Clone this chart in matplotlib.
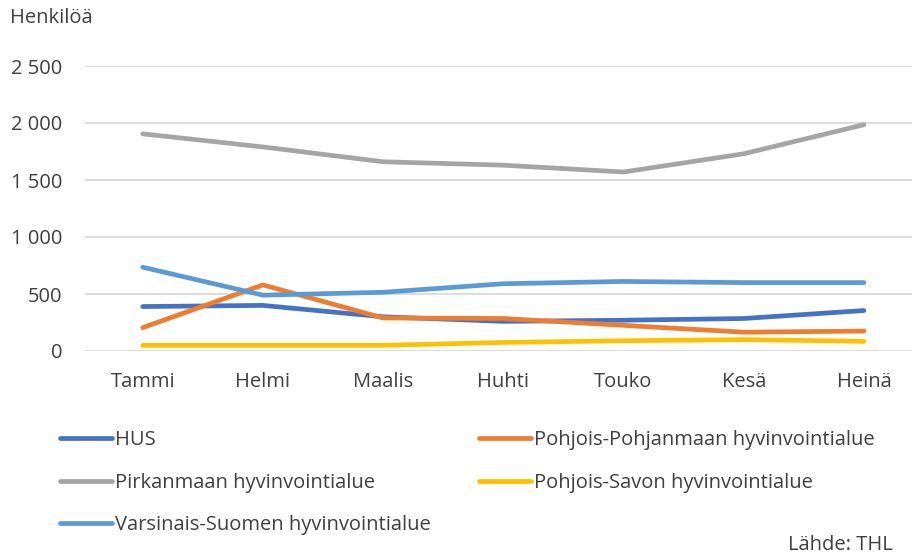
import numpy as np
import matplotlib.pyplot as plt

plt.rcParams["font.family"] = ["Open Sans", "DejaVu Sans"]

# Kuukaudet ja sarjat (henkilöä)
kuukaudet = ["Tammi", "Helmi", "Maalis", "Huhti", "Touko", "Kesä", "Heinä"]
hus = [390, 400, 300, 260, 270, 285, 355]
pohjois_pohjanmaa = [205, 580, 290, 285, 225, 165, 175]
pirkanmaa = [1905, 1790, 1660, 1630, 1570, 1730, 1985]
pohjois_savo = [50, 50, 50, 75, 90, 100, 85]
varsinais_suomi = [735, 490, 515, 590, 610, 600, 600]

y_ticks = [0, 500, 1000, 1500, 2000, 2500]
y_tick_labels = ["0", "500", "1 000", "1 500", "2 000", "2 500"]

TXT = "#404040"
FS = 14.5

W, H = 914, 555
fig = plt.figure(figsize=(W / 100, H / 100), dpi=100)
ax = fig.add_axes([85 / W, 1 - 351 / H, (912 - 85) / W, (351 - 66) / H])

x = np.arange(len(kuukaudet))
sarjat = {
    "HUS": (hus, "#4472C4"),
    "Pohjois-Pohjanmaan hyvinvointialue": (pohjois_pohjanmaa, "#ED7D31"),
    "Pirkanmaan hyvinvointialue": (pirkanmaa, "#A5A5A5"),
    "Pohjois-Savon hyvinvointialue": (pohjois_savo, "#FFC000"),
    "Varsinais-Suomen hyvinvointialue": (varsinais_suomi, "#5B9BD5"),
}
viivat = {}
for nimi, (vals, vari) in sarjat.items():
    viivat[nimi], = ax.plot(x, vals, color=vari, lw=3.4, solid_capstyle="round",
                            solid_joinstyle="round", label=nimi)

ax.set_xlim(-0.48, 6.40)
ax.set_ylim(0, 2500)
ax.set_yticks(y_ticks)
ax.set_yticklabels(y_tick_labels)
ax.set_xticks(x)
ax.set_xticklabels(kuukaudet)
ax.grid(axis="y", color="#D9D9D9", lw=1.3)
ax.set_axisbelow(True)
for s in ax.spines.values():
    s.set_visible(False)
ax.tick_params(length=0, labelsize=FS, colors=TXT)
ax.tick_params(axis="y", pad=16.5)
ax.tick_params(axis="x", pad=15)

fig.text(10 / W, 1 - 18 / H, "Henkilöä", fontsize=FS, color=TXT, va="center")

# legenda kahdessa sarakkeessa
vasen = ["HUS", "Pirkanmaan hyvinvointialue", "Varsinais-Suomen hyvinvointialue"]
oikea = ["Pohjois-Pohjanmaan hyvinvointialue", "Pohjois-Savon hyvinvointialue"]
for nimet, x0 in [(vasen, 52), (oikea, 471)]:
    leg = fig.legend([viivat[n] for n in nimet], nimet, loc="upper left",
                     bbox_to_anchor=(x0 / W, 1 - 422 / H), frameon=False, fontsize=FS,
                     handlelength=2.6, handletextpad=0.15, labelspacing=1.12,
                     labelcolor=TXT, borderaxespad=0)

fig.text(893 / W, 1 - 545 / H, "Lähde: THL", fontsize=FS, color=TXT,
         ha="right", va="center")

fig.savefig("out.png", dpi=100)
